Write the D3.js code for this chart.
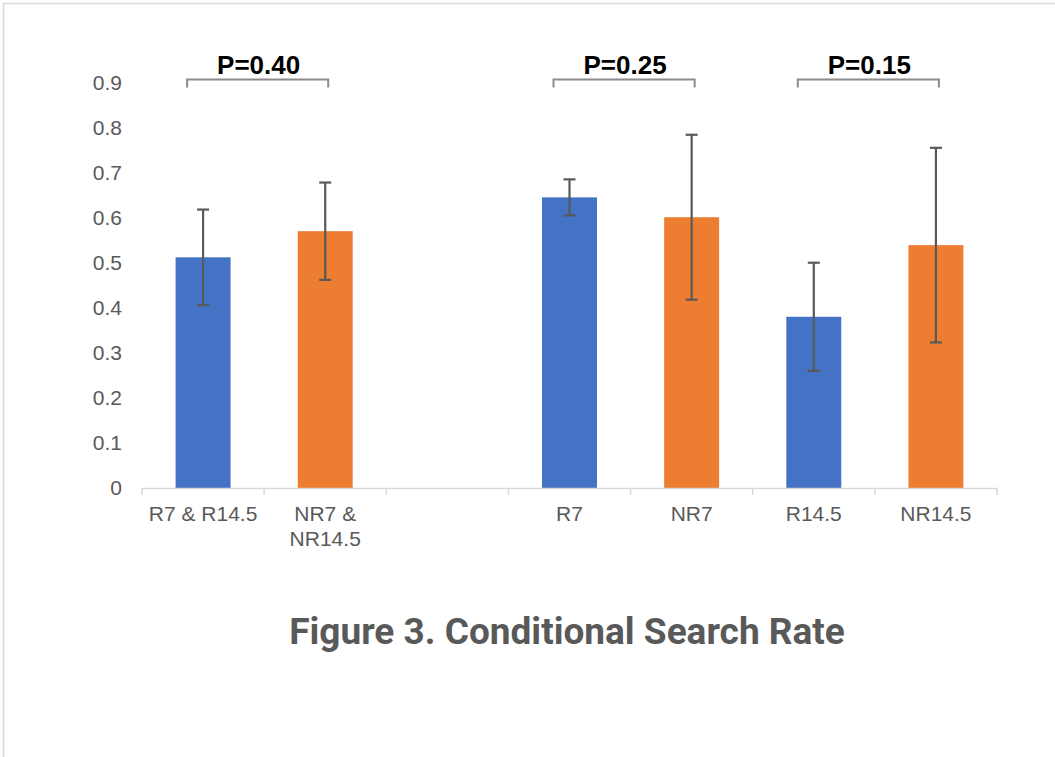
<!DOCTYPE html>
<html>
<head>
<meta charset="utf-8">
<script src="https://cdn.jsdelivr.net/npm/d3@7/dist/d3.min.js"></script>
<style>
  html, body { margin: 0; padding: 0; background: #fff; }
  svg { display: block; }
</style>
</head>
<body>
<script>
// ---- data ----
const categories = ["R7 & R14.5", "NR7 & NR14.5", "", "R7", "NR7", "R14.5", "NR14.5"];
const values     = [0.512, 0.570, null, 0.645, 0.601, 0.380, 0.539];
const errors     = [0.106, 0.108, null, 0.040, 0.183, 0.120, 0.216];
const groups     = ["R", "NR", null, "R", "NR", "R", "NR"];
const yTicks     = [0, 0.1, 0.2, 0.3, 0.4, 0.5, 0.6, 0.7, 0.8, 0.9];
const brackets   = [
  { from: "R7 & R14.5", to: "NR7 & NR14.5", label: "P=0.40" },
  { from: "R7", to: "NR7", label: "P=0.25" },
  { from: "R14.5", to: "NR14.5", label: "P=0.15" }
];
const title = "Figure 3. Conditional Search Rate";

// ---- layout ----
const W = 1055, H = 757;
const svg = d3.select("body").append("svg").attr("width", W).attr("height", H);

// frame (only top and left visible)
svg.append("rect").attr("x", 3.5).attr("y", 3.5).attr("width", W + 20).attr("height", H + 20)
  .attr("fill", "none").attr("stroke", "#d9d9d9").attr("stroke-width", 1.5);

const x = d3.scaleBand().domain(categories.map((c, i) => i)).range([142, 997]).padding(0);
const y = d3.scaleLinear().domain([0, 0.9]).range([488, 82.5]);
const color = d3.scaleOrdinal().domain(["R", "NR"]).range(["#4472C4", "#ED7D31"]);

const data = categories.map((c, i) => ({ i, c, v: values[i], e: errors[i], g: groups[i] }))
  .filter(d => d.v != null);
const bw = x.bandwidth() * 0.45;
const cx = i => x(i) + x.bandwidth() / 2;

// y axis labels (no line)
const yAxis = d3.axisLeft(y).tickValues(yTicks).tickFormat(d => d === 0 ? "0" : d3.format(".1f")(d))
  .tickSize(0).tickPadding(20);
const yg = svg.append("g").attr("transform", "translate(142,0)").call(yAxis);
yg.select(".domain").remove();
yg.selectAll("text").attr("fill", "#595959").style("font-family", "'Liberation Sans', Arial, sans-serif")
  .style("font-size", "21px");

// bars
svg.append("g").selectAll("rect").data(data).join("rect")
  .attr("x", d => cx(d.i) - bw / 2)
  .attr("y", d => y(d.v))
  .attr("width", bw)
  .attr("height", d => y(0) - y(d.v))
  .attr("fill", d => color(d.g));

// x axis
const xAxis = d3.axisBottom(x).tickSize(0).tickFormat("");
const xg = svg.append("g").attr("transform", `translate(0,${y(0)})`).call(xAxis);
xg.select(".domain").attr("stroke", "#d9d9d9").attr("stroke-width", 1.5).attr("d", `M142,0.5H997`);
// category boundary ticks
const bounds = categories.map((c, i) => x(i)).concat([x(categories.length - 1) + x.bandwidth()]);
xg.selectAll("line.bt").data(bounds).join("line").attr("class", "bt")
  .attr("x1", d => d).attr("x2", d => d).attr("y1", 0).attr("y2", 7)
  .attr("stroke", "#d9d9d9").attr("stroke-width", 1.5);

// x labels (with wrapping)
const xl = svg.append("g").selectAll("text").data(categories.map((c, i) => ({ c, i })).filter(d => d.c))
  .join("text")
  .attr("x", d => cx(d.i)).attr("y", 521)
  .attr("text-anchor", "middle").attr("fill", "#595959")
  .style("font-family", "'Liberation Sans', Arial, sans-serif").style("font-size", "21px");
xl.each(function (d) {
  const t = d3.select(this);
  const lines = d.c === "NR7 & NR14.5" ? ["NR7 &", "NR14.5"] : [d.c];
  lines.forEach((ln, k) => t.append("tspan").attr("x", cx(d.i)).attr("dy", k === 0 ? 0 : 25).text(ln));
});

// error bars
const eg = svg.append("g").attr("stroke", "#595959").attr("stroke-width", 2.2);
data.forEach(d => {
  const c = cx(d.i);
  eg.append("line").attr("x1", c).attr("x2", c).attr("y1", y(d.v + d.e)).attr("y2", y(d.v - d.e));
  eg.append("line").attr("x1", c - 6).attr("x2", c + 6).attr("y1", y(d.v + d.e)).attr("y2", y(d.v + d.e));
  eg.append("line").attr("x1", c - 6).attr("x2", c + 6).attr("y1", y(d.v - d.e)).attr("y2", y(d.v - d.e));
});

// significance brackets
const idx = name => categories.indexOf(name);
const byY = 79.5;
const bg = svg.append("g");
brackets.forEach(b => {
  const x1 = cx(idx(b.from)) - 16, x2 = cx(idx(b.to)) + 3;
  bg.append("path").attr("d", `M${x1},${byY + 8}V${byY}H${x2}V${byY + 8}`)
    .attr("fill", "none").attr("stroke", "#8c8c8c").attr("stroke-width", 2);
  bg.append("text").attr("x", (x1 + x2) / 2 + 1).attr("y", byY - 6)
    .attr("text-anchor", "middle").attr("fill", "#000")
    .style("font-family", "'Liberation Sans', Arial, sans-serif").style("font-weight", "bold")
    .style("font-size", "26px").text(b.label);
});

// title
svg.append("text").attr("x", 567).attr("y", 644).attr("text-anchor", "middle")
  .attr("fill", "#595959").style("font-family", "Roboto, 'Liberation Sans', sans-serif")
  .style("font-weight", "bold").style("font-size", "37px").text(title);
</script>
</body>
</html>
